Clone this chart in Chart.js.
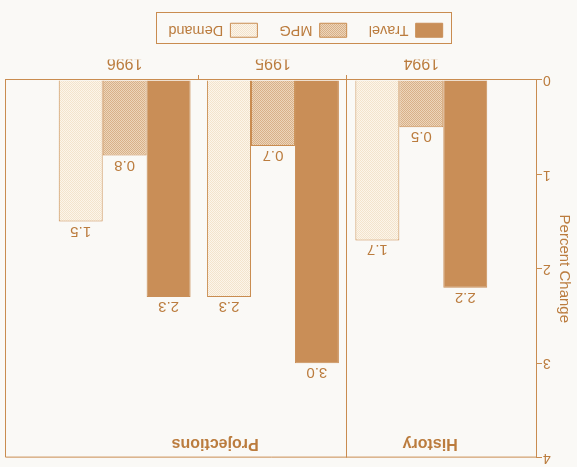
<!DOCTYPE html>
<html>
<head>
<meta charset="utf-8">
<title>Percent Change</title>
<script src="https://cdn.jsdelivr.net/npm/chart.js@4.4.1/dist/chart.umd.min.js"></script>
<style>
  html, body { margin: 0; padding: 0; background: #faf9f6; }
  #wrap { width: 577px; height: 467px; transform: rotate(180deg); }
</style>
</head>
<body>
<div id="wrap"><canvas id="chart" width="577" height="467"></canvas></div>
<script>
// Percent change by year
const years = ['1994', '1995', '1996'];
const travel = [2.2, 3.0, 2.3];
const mpg = [0.5, 0.7, 0.8];
const demand = [1.7, 2.3, 1.5];
const seriesNames = ['Travel', 'MPG', 'Demand'];
const sections = ['History', 'Projections'];

const ink = '#c98c50';
const textInk = '#bb7c3e';
Chart.defaults.font.family = '"Liberation Sans", Arial, sans-serif';
Chart.defaults.color = textInk;

// small dotted tile used as a bar fill
function dotted(bg, dot) {
  const c = document.createElement('canvas');
  c.width = 2; c.height = 2;
  const g = c.getContext('2d');
  g.fillStyle = bg; g.fillRect(0, 0, 2, 2);
  g.fillStyle = dot;
  g.fillRect(0, 0, 1, 1); g.fillRect(1, 1, 1, 1);
  return g.createPattern(c, 'repeat');
}

const asPoints = arr => arr.map((v, i) => ({ x: i + 1, y: v }));

const extras = {
  id: 'extras',
  afterLayout(chart) {
    // legend sits a bit left of center
    chart.legend.left -= 14;
    chart.legend.right -= 14;
  },
  beforeDatasetsDraw(chart) {
    const { ctx, chartArea: a, scales: { x } } = chart;
    ctx.save();
    ctx.strokeStyle = ink;
    ctx.lineWidth = 1;
    ctx.beginPath();
    ctx.moveTo(a.left, a.top + 0.5); ctx.lineTo(a.right + 0.5, a.top + 0.5);
    ctx.lineTo(a.right + 0.5, a.bottom);
    // divider between history and projections
    const d = Math.round(x.getPixelForValue(1.5)) + 0.5;
    ctx.moveTo(d, a.top); ctx.lineTo(d, a.bottom + 5);
    const t = Math.round(x.getPixelForValue(2.5)) + 0.5;
    ctx.moveTo(t, a.bottom); ctx.lineTo(t, a.bottom + 5);
    ctx.stroke();
    ctx.restore();
  },
  afterDatasetsDraw(chart) {
    const { ctx, scales: { x, y } } = chart;
    ctx.save();
    ctx.fillStyle = textInk;
    ctx.font = '15px "Liberation Sans", Arial, sans-serif';
    ctx.textAlign = 'center';
    ctx.textBaseline = 'alphabetic';
    chart.data.datasets.forEach((ds, i) => {
      chart.getDatasetMeta(i).data.forEach((bar, j) => {
        ctx.fillText(ds.data[j].y.toFixed(1), bar.x, bar.y - 5);
      });
    });
    ctx.font = 'bold 16px "Liberation Sans", Arial, sans-serif';
    ctx.textBaseline = 'middle';
    ctx.fillText(sections[0], x.getPixelForValue(0.94), y.getPixelForValue(3.85));
    ctx.fillText(sections[1], x.getPixelForValue(2.39), y.getPixelForValue(3.85));
    ctx.restore();
  },
  afterDraw(chart) {
    const hb = chart.legend.legendHitBoxes;
    if (!hb || !hb.length) return;
    const last = hb[hb.length - 1];
    const l = Math.round(hb[0].left - 9) + 0.5;
    const r = Math.round(last.left + last.width + 11) + 0.5;
    const t = Math.round(hb[0].top - 7) + 0.5;
    const b = Math.round(hb[0].top + hb[0].height + 10) + 0.5;
    const ctx = chart.ctx;
    ctx.save();
    ctx.strokeStyle = ink;
    ctx.lineWidth = 1;
    ctx.strokeRect(l, t, r - l, b - t);
    ctx.restore();
  }
};

new Chart(document.getElementById('chart'), {
  type: 'bar',
  data: {
    datasets: [
      { label: seriesNames[0], data: asPoints(travel), backgroundColor: '#c98e57', borderColor: '#c98e57', borderWidth: 1 },
      { label: seriesNames[1], data: asPoints(mpg), backgroundColor: dotted('#ecd6bb', '#d9b088'), borderColor: ink, borderWidth: 1 },
      { label: seriesNames[2], data: asPoints(demand), backgroundColor: dotted('#fcf5ea', '#f3e3cc'), borderColor: ink, borderWidth: 1 }
    ]
  },
  options: {
    responsive: false,
    animation: false,
    devicePixelRatio: 1,
    layout: { padding: { top: 0, right: 6, bottom: 13, left: 0 } },
    datasets: { bar: { categoryPercentage: 0.889, barPercentage: 1.0 } },
    plugins: {
      tooltip: { enabled: false },
      legend: {
        position: 'bottom',
        labels: { color: textInk, font: { size: 14.5 }, boxWidth: 27, boxHeight: 14, padding: 22 }
      }
    },
    scales: {
      x: {
        type: 'linear', min: 0.22, max: 3.8, offset: false,
        afterBuildTicks: s => { s.ticks = years.map((_, i) => ({ value: i + 1 })); },
        ticks: { callback: v => years[Math.round(v) - 1], color: textInk, font: { size: 16 }, padding: 8, maxRotation: 0, autoSkip: false },
        grid: { display: false, drawTicks: false, tickLength: 0 },
        border: { color: ink, width: 1 },
        afterFit: s => { s.height = 20.5; }
      },
      y: {
        min: 0, max: 4,
        ticks: { stepSize: 1, color: textInk, font: { size: 14 }, padding: 1 },
        grid: { drawOnChartArea: false, tickLength: 5, color: ink },
        border: { color: ink, width: 1 },
        title: { display: true, text: 'Percent Change', color: textInk, font: { size: 15 }, padding: 4 },
        afterFit: s => { s.width = 40; }
      }
    }
  },
  plugins: [extras]
});
</script>
</body>
</html>
